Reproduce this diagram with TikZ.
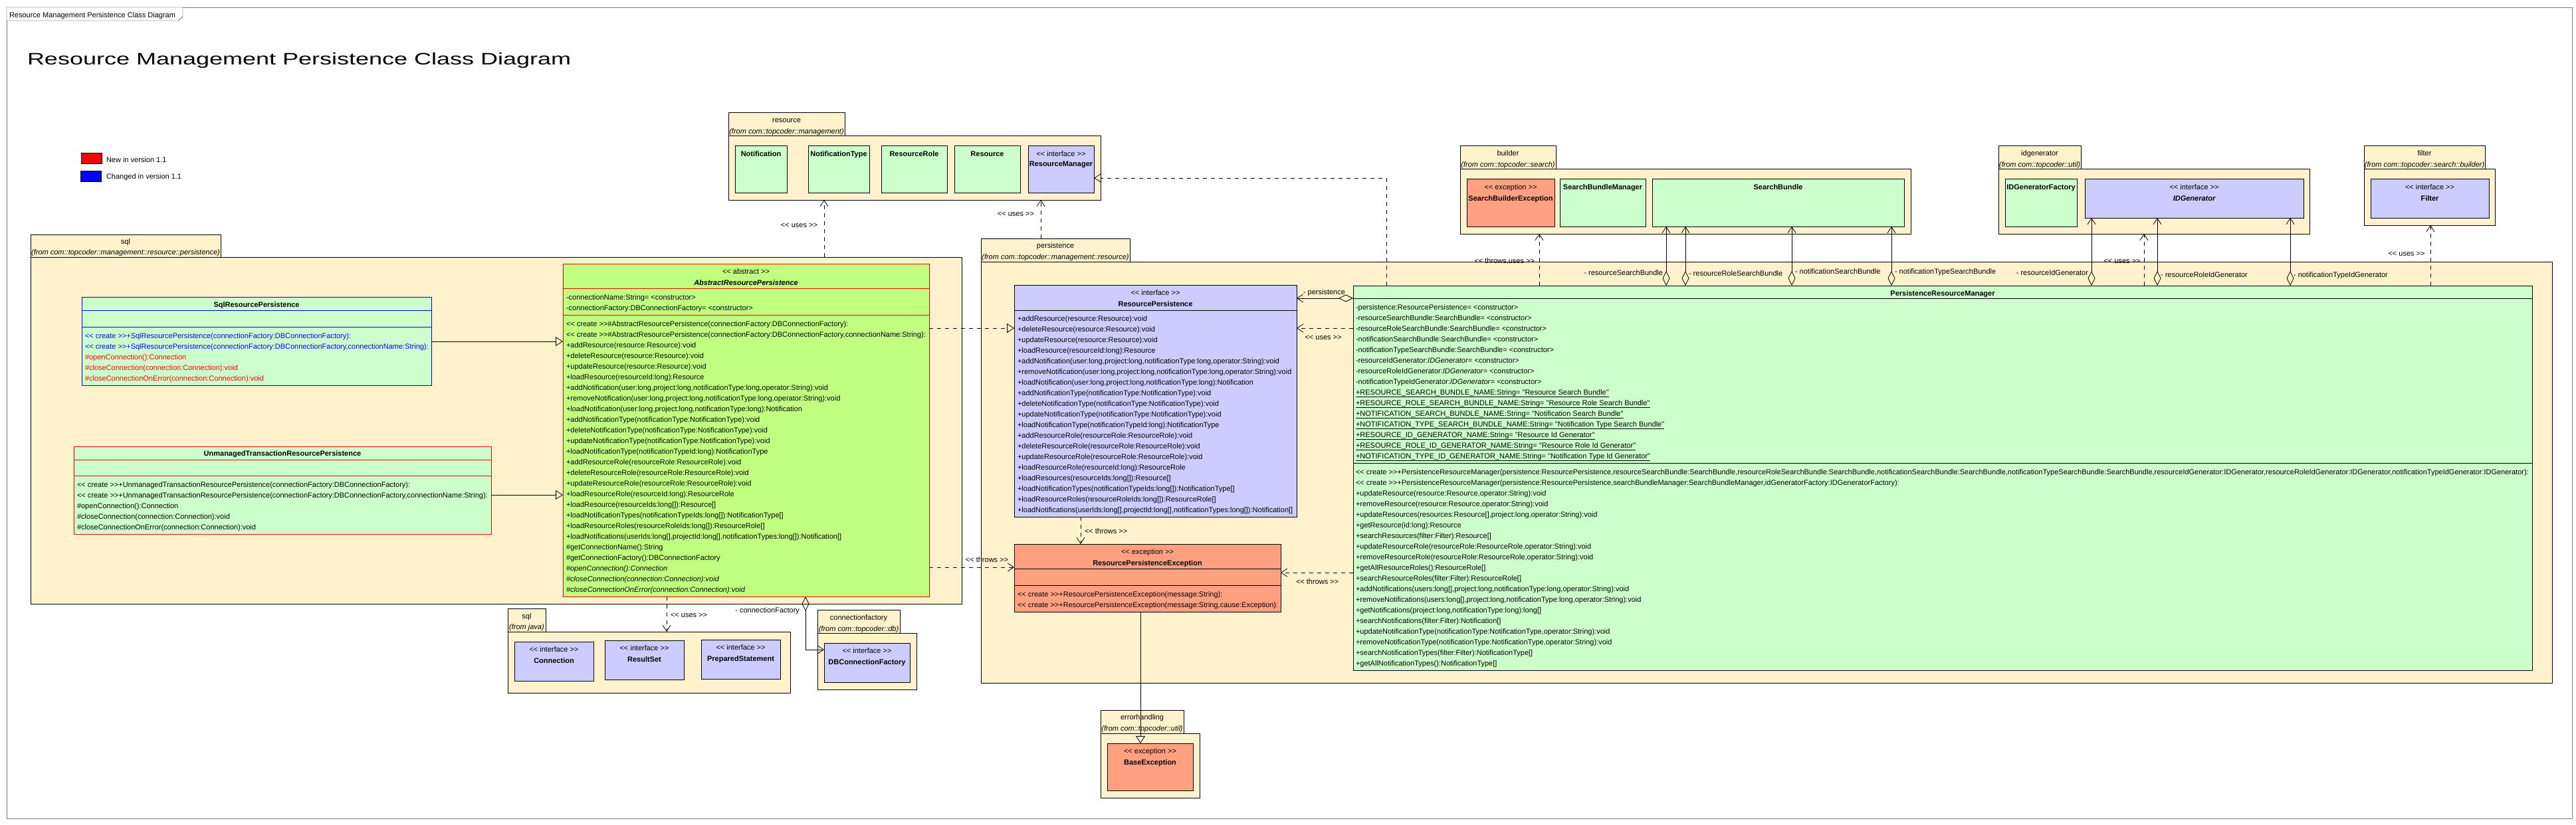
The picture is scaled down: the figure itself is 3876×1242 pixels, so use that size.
\documentclass[tikz,border=0pt]{standalone}
\usepackage{fontspec}
\setmainfont{Liberation Sans}[Ligatures=TeXOff]
\newfontfamily\titlefont{Liberation Sans}[FakeStretch=1.44,Ligatures=TeXOff]
\usetikzlibrary{arrows.meta,fit}

\definecolor{pkgfill}{HTML}{FFF2CC}
\definecolor{clsfill}{HTML}{CCFFCC}
\definecolor{absfill}{HTML}{C0FF80}
\definecolor{iffill}{HTML}{CCCCFF}
\definecolor{exfill}{HTML}{FFA080}

\begin{document}
\begin{tikzpicture}[x=1pt, y=-1pt,
    every node/.style={font=\fontsize{11}{13}\selectfont, inner sep=0pt, outer sep=0pt},
    pkgbox/.style={draw, fill=pkgfill, line width=1pt},
    clsbox/.style={draw, fill=clsfill, line width=1pt},
    absbox/.style={draw=red, fill=absfill, line width=1pt},
    ifbox/.style={draw, fill=iffill, line width=1pt},
    exbox/.style={draw, fill=exfill, line width=1pt},
    row/.style={anchor=base west},
    cname/.style={anchor=base, font=\fontsize{11}{13}\selectfont\bfseries},
    stereo/.style={anchor=base},
    dep/.style={line width=0.8pt, dash pattern=on 6pt off 6pt, arrows={-Straight Barb[length=9pt,width=12pt]}},
    real/.style={line width=0.8pt, dash pattern=on 6pt off 6pt, arrows={-Triangle[open,length=11pt,width=14pt]}},
    gen/.style={line width=0.8pt, arrows={-Triangle[open,length=11pt,width=14pt]}},
    aggr/.style={line width=0.8pt, arrows={Diamond[open,length=22pt,width=11pt]-Straight Barb[length=9pt,width=12pt]}},
  ]
\useasboundingbox (0,0) rectangle (3876,1242);

% frame and title
\draw[gray] (10,11) rectangle (3870,1232);
\draw[fill=white] (10,11) -- (275,11) -- (275,25) -- (268,31) -- (10,31) -- cycle;
\node[row] (tabtext) at (14,26) {Resource Management Persistence Class Diagram};
\node[row, font=\titlefont\fontsize{25}{30}\selectfont] (title) at (41,97) {Resource Management Persistence Class Diagram};

% legend
\node[draw, fill=red, fit={(122,230) (153,246)}] (newkey) {};
\node[row] (newtext) at (160,244) {New in version 1.1};
\node[draw, fill=blue, fit={(121,257) (152,273)}] (chgkey) {};
\node[row] (chgtext) at (160,269) {Changed in version 1.1};

% packages
\node[pkgbox, fit={(1096,169) (1271,204)}] (restab) {};
\node[pkgbox, fit={(1096,204) (1656,301)}] (respkg) {};
\node[stereo] at (1183.5,184) {resource};
\node[stereo] at (1183.5,201) {\itshape (from com::topcoder::management)};

\node[pkgbox, fit={(46,353) (332,387)}] (sqltab) {};
\node[pkgbox, fit={(46,387) (1447,909)}] (sqlpkg) {};
\node[stereo] at (189,367) {sql};
\node[stereo] at (189,383) {\itshape (from com::topcoder::management::resource::persistence)};

\node[pkgbox, fit={(1476,359) (1700,394)}] (perstab) {};
\node[pkgbox, fit={(1476,394) (3840,1028)}] (perspkg) {};
\node[stereo] at (1588,373) {persistence};
\node[stereo] at (1588,390) {\itshape (from com::topcoder::management::resource)};

\node[pkgbox, fit={(764,916) (821,951)}] (jsqltab) {};
\node[pkgbox, fit={(764,951) (1189,1043)}] (jsqlpkg) {};
\node[stereo] at (792.5,931) {sql};
\node[stereo] at (792.5,947) {\itshape (from java)};

\node[pkgbox, fit={(1230,918) (1354,953)}] (cftab) {};
\node[pkgbox, fit={(1230,953) (1379,1038)}] (cfpkg) {};
\node[stereo] at (1292,933) {connectionfactory};
\node[stereo] at (1292,950) {\itshape (from com::topcoder::db)};

\node[pkgbox, fit={(1656,1069) (1781,1104)}] (errtab) {};
\node[pkgbox, fit={(1656,1104) (1805,1201)}] (errpkg) {};
\node[stereo] at (1718.5,1083) {errorhandling};
\node[stereo] at (1718.5,1100) {\itshape (from com::topcoder::util)};

\node[pkgbox, fit={(2197,219) (2341,254)}] (bldtab) {};
\node[pkgbox, fit={(2197,254) (2875,352)}] (bldpkg) {};
\node[stereo] at (2269,234) {builder};
\node[stereo] at (2269,251) {\itshape (from com::topcoder::search)};

\node[pkgbox, fit={(3007,219) (3131,254)}] (idgtab) {};
\node[pkgbox, fit={(3007,254) (3475,352)}] (idgpkg) {};
\node[stereo] at (3069,234) {idgenerator};
\node[stereo] at (3069,251) {\itshape (from com::topcoder::util)};

\node[pkgbox, fit={(3557,219) (3739,254)}] (flttab) {};
\node[pkgbox, fit={(3557,254) (3754,339)}] (fltpkg) {};
\node[stereo] at (3648,234) {filter};
\node[stereo] at (3648,251) {\itshape (from com::topcoder::search::builder)};

% resource classes
\node[clsbox, fit={(1106,219) (1184,290)}] (notif) {};
\node[cname] at (1145,235) {Notification};
\node[clsbox, fit={(1216,219) (1308,290)}] (ntype) {};
\node[cname] at (1262,235) {NotificationType};
\node[clsbox, fit={(1326,219) (1425,290)}] (rrole) {};
\node[cname] at (1375.5,235) {ResourceRole};
\node[clsbox, fit={(1436,219) (1535,290)}] (res) {};
\node[cname] at (1485.5,235) {Resource};
\node[ifbox, fit={(1547,219) (1646,290)}] (resmgr) {};
\node[stereo] at (1596.5,235) {<< interface >>};
\node[cname] at (1596.5,250) {ResourceManager};

% java sql and db classes
\node[ifbox, fit={(774,966) (893,1025)}] (conn) {};
\node[stereo] at (833.5,981) {<< interface >>};
\node[cname] at (833.5,998) {Connection};
\node[ifbox, fit={(910,964) (1029,1023)}] (rset) {};
\node[stereo] at (969.5,979) {<< interface >>};
\node[cname] at (969.5,996) {ResultSet};
\node[ifbox, fit={(1055,963) (1174,1022)}] (pstmt) {};
\node[stereo] at (1114.5,978) {<< interface >>};
\node[cname] at (1114.5,995) {PreparedStatement};
\node[ifbox, fit={(1240,968) (1369,1027)}] (dbcf) {};
\node[stereo] at (1304.5,983) {<< interface >>};
\node[cname] at (1304.5,1000) {DBConnectionFactory};

% builder, idgenerator, filter classes
\node[exbox, fit={(2207,269) (2339,341)}] (sbex) {};
\node[stereo] at (2273,285) {<< exception >>};
\node[cname] at (2273,302) {SearchBuilderException};
\node[clsbox, fit={(2347,269) (2476,341)}] (sbmgr) {};
\node[cname] at (2411.5,285) {SearchBundleManager};
\node[clsbox, fit={(2486,269) (2865,341)}] (sbundle) {};
\node[cname] at (2675.5,285) {SearchBundle};
\node[clsbox, fit={(3017,269) (3125,341)}] (idgf) {};
\node[cname] at (3071,285) {IDGeneratorFactory};
\node[ifbox, fit={(3137,269) (3466,328)}] (idgen) {};
\node[stereo] at (3301.5,285) {<< interface >>};
\node[cname, font=\fontsize{11}{13}\selectfont\bfseries\itshape] at (3301.5,302) {IDGenerator};
\node[ifbox, fit={(3567,269) (3745,328)}] (filter) {};
\node[stereo] at (3656,285) {<< interface >>};
\node[cname] at (3656,302) {Filter};

% SqlResourcePersistence
\node[clsbox, draw=blue, fit={(123,447) (649,580)}] (sqlrp) {};
\draw[blue, line width=1pt] (sqlrp.west |- 0,467) -- (sqlrp.east |- 0,467);
\draw[blue, line width=1pt] (sqlrp.west |- 0,492) -- (sqlrp.east |- 0,492);
\node[cname] at (386,462) {SqlResourcePersistence};
\foreach \t [count=\i from 0] in {
    {<< create >>+SqlResourcePersistence(connectionFactory:DBConnectionFactory):},
    {<< create >>+SqlResourcePersistence(connectionFactory:DBConnectionFactory,connectionName:String):}}
  \node[row, text=blue] (sqlrp-m\i) at (128,509+16*\i) {\t};
\foreach \t [count=\i from 2] in {
    {\#openConnection():Connection},
    {\#closeConnection(connection:Connection):void},
    {\#closeConnectionOnError(connection:Connection):void}}
  \node[row, text=red] (sqlrp-m\i) at (128,509+16*\i) {\t};

% UnmanagedTransactionResourcePersistence
\node[clsbox, draw=red, fit={(111,672) (739,804)}] (utrp) {};
\draw[red, line width=1pt] (utrp.west |- 0,692) -- (utrp.east |- 0,692);
\draw[red, line width=1pt] (utrp.west |- 0,716) -- (utrp.east |- 0,716);
\node[cname] at (425,686) {UnmanagedTransactionResourcePersistence};
\foreach \t [count=\i from 0] in {
    {<< create >>+UnmanagedTransactionResourcePersistence(connectionFactory:DBConnectionFactory):},
    {<< create >>+UnmanagedTransactionResourcePersistence(connectionFactory:DBConnectionFactory,connectionName:String):},
    {\#openConnection():Connection},
    {\#closeConnection(connection:Connection):void},
    {\#closeConnectionOnError(connection:Connection):void}}
  \node[row] (utrp-m\i) at (116,733+16*\i) {\t};

% AbstractResourcePersistence
\node[absbox, fit={(847,397) (1398,898)}] (abs) {};
\draw[red, line width=1pt] (abs.west |- 0,434) -- (abs.east |- 0,434);
\draw[red, line width=1pt] (abs.west |- 0,474) -- (abs.east |- 0,474);
\node[stereo] at (1122.5,412) {<< abstract >>};
\node[cname, font=\fontsize{11}{13}\selectfont\bfseries\itshape] at (1122.5,429) {AbstractResourcePersistence};
\node[row] (abs-a0) at (852,451) {-connectionName:String= <constructor>};
\node[row] (abs-a1) at (852,467) {-connectionFactory:DBConnectionFactory= <constructor>};
\foreach \t [count=\i from 0] in {
    {<< create >>\#AbstractResourcePersistence(connectionFactory:DBConnectionFactory):},
    {<< create >>\#AbstractResourcePersistence(connectionFactory:DBConnectionFactory,connectionName:String):},
    {+addResource(resource:Resource):void},
    {+deleteResource(resource:Resource):void},
    {+updateResource(resource:Resource):void},
    {+loadResource(resourceId:long):Resource},
    {+addNotification(user:long,project:long,notificationType:long,operator:String):void},
    {+removeNotification(user:long,project:long,notificationType:long,operator:String):void},
    {+loadNotification(user:long,project:long,notificationType:long):Notification},
    {+addNotificationType(notificationType:NotificationType):void},
    {+deleteNotificationType(notificationType:NotificationType):void},
    {+updateNotificationType(notificationType:NotificationType):void},
    {+loadNotificationType(notificationTypeId:long):NotificationType},
    {+addResourceRole(resourceRole:ResourceRole):void},
    {+deleteResourceRole(resourceRole:ResourceRole):void},
    {+updateResourceRole(resourceRole:ResourceRole):void},
    {+loadResourceRole(resourceId:long):ResourceRole},
    {+loadResource(resourceIds:long[]):Resource[]},
    {+loadNotificationTypes(notificationTypeIds:long[]):NotificationType[]},
    {+loadResourceRoles(resourceRoleIds:long[]):ResourceRole[]},
    {+loadNotifications(userIds:long[],projectId:long[],notificationTypes:long[]):Notification[]},
    {\#getConnectionName():String},
    {\#getConnectionFactory():DBConnectionFactory},
    {\itshape\#openConnection():Connection},
    {\itshape\#closeConnection(connection:Connection):void},
    {\itshape\#closeConnectionOnError(connection:Connection):void}}
  \node[row] (abs-m\i) at (852,491+16*\i) {\t};

% ResourcePersistence
\node[ifbox, fit={(1526,429) (1951,778)}] (rp) {};
\draw[line width=1pt] (rp.west |- 0,467) -- (rp.east |- 0,467);
\node[stereo] at (1738.5,444) {<< interface >>};
\node[cname] at (1738.5,461) {ResourcePersistence};
\foreach \t [count=\i from 0] in {
    {+addResource(resource:Resource):void},
    {+deleteResource(resource:Resource):void},
    {+updateResource(resource:Resource):void},
    {+loadResource(resourceId:long):Resource},
    {+addNotification(user:long,project:long,notificationType:long,operator:String):void},
    {+removeNotification(user:long,project:long,notificationType:long,operator:String):void},
    {+loadNotification(user:long,project:long,notificationType:long):Notification},
    {+addNotificationType(notificationType:NotificationType):void},
    {+deleteNotificationType(notificationType:NotificationType):void},
    {+updateNotificationType(notificationType:NotificationType):void},
    {+loadNotificationType(notificationTypeId:long):NotificationType},
    {+addResourceRole(resourceRole:ResourceRole):void},
    {+deleteResourceRole(resourceRole:ResourceRole):void},
    {+updateResourceRole(resourceRole:ResourceRole):void},
    {+loadResourceRole(resourceId:long):ResourceRole},
    {+loadResources(resourceIds:long[]):Resource[]},
    {+loadNotificationTypes(notificationTypeIds:long[]):NotificationType[]},
    {+loadResourceRoles(resourceRoleIds:long[]):ResourceRole[]},
    {+loadNotifications(userIds:long[],projectId:long[],notificationTypes:long[]):Notification[]}}
  \node[row] (rp-m\i) at (1531,483+16*\i) {\t};

% ResourcePersistenceException
\node[exbox, fit={(1526,819) (1927,921)}] (rpex) {};
\draw[line width=1pt] (rpex.west |- 0,856) -- (rpex.east |- 0,856);
\draw[line width=1pt] (rpex.west |- 0,881) -- (rpex.east |- 0,881);
\node[stereo] at (1726.5,834) {<< exception >>};
\node[cname] at (1726.5,851) {ResourcePersistenceException};
\node[row] (rpex-m0) at (1531,898) {<< create >>+ResourcePersistenceException(message:String):};
\node[row] (rpex-m1) at (1531,914) {<< create >>+ResourcePersistenceException(message:String,cause:Exception):};

% BaseException
\node[exbox, fit={(1666,1119) (1795,1190)}] (baseex) {};
\node[stereo] at (1730.5,1134) {<< exception >>};
\node[cname] at (1730.5,1151) {BaseException};

% PersistenceResourceManager
\node[clsbox, fit={(2036,430) (3810,1009)}] (prm) {};
\draw[line width=1pt] (prm.west |- 0,449) -- (prm.east |- 0,449);
\draw[line width=1pt] (prm.west |- 0,697) -- (prm.east |- 0,697);
\node[cname] at (2923,445) {PersistenceResourceManager};
\foreach \t [count=\i from 0] in {
    {-persistence:ResourcePersistence= <constructor>},
    {-resourceSearchBundle:SearchBundle= <constructor>},
    {-resourceRoleSearchBundle:SearchBundle= <constructor>},
    {-notificationSearchBundle:SearchBundle= <constructor>},
    {-notificationTypeSearchBundle:SearchBundle= <constructor>},
    {-resourceIdGenerator:\textit{IDGenerator}= <constructor>},
    {-resourceRoleIdGenerator:\textit{IDGenerator}= <constructor>},
    {-notificationTypeIdGenerator:\textit{IDGenerator}= <constructor>},
    {\underline{+RESOURCE\_SEARCH\_BUNDLE\_NAME:String= "Resource Search Bundle"}},
    {\underline{+RESOURCE\_ROLE\_SEARCH\_BUNDLE\_NAME:String= "Resource Role Search Bundle"}},
    {\underline{+NOTIFICATION\_SEARCH\_BUNDLE\_NAME:String= "Notification Search Bundle"}},
    {\underline{+NOTIFICATION\_TYPE\_SEARCH\_BUNDLE\_NAME:String= "Notification Type Search Bundle"}},
    {\underline{+RESOURCE\_ID\_GENERATOR\_NAME:String= "Resource Id Generator"}},
    {\underline{+RESOURCE\_ROLE\_ID\_GENERATOR\_NAME:String= "Resource Role Id Generator"}},
    {\underline{+NOTIFICATION\_TYPE\_ID\_GENERATOR\_NAME:String= "Notification Type Id Generator"}}}
  \node[row] (prm-a\i) at (2040,466+16*\i) {\t};
\foreach \t [count=\i from 0] in {
    {<< create >>+PersistenceResourceManager(persistence:ResourcePersistence,resourceSearchBundle:SearchBundle,resourceRoleSearchBundle:SearchBundle,notificationSearchBundle:SearchBundle,notificationTypeSearchBundle:SearchBundle,resourceIdGenerator:IDGenerator,resourceRoleIdGenerator:IDGenerator,notificationTypeIdGenerator:IDGenerator):},
    {<< create >>+PersistenceResourceManager(persistence:ResourcePersistence,searchBundleManager:SearchBundleManager,idGeneratorFactory:IDGeneratorFactory):},
    {+updateResource(resource:Resource,operator:String):void},
    {+removeResource(resource:Resource,operator:String):void},
    {+updateResources(resources:Resource[],project:long,operator:String):void},
    {+getResource(id:long):Resource},
    {+searchResources(filter:Filter):Resource[]},
    {+updateResourceRole(resourceRole:ResourceRole,operator:String):void},
    {+removeResourceRole(resourceRole:ResourceRole,operator:String):void},
    {+getAllResourceRoles():ResourceRole[]},
    {+searchResourceRoles(filter:Filter):ResourceRole[]},
    {+addNotifications(users:long[],project:long,notificationType:long,operator:String):void},
    {+removeNotifications(users:long[],project:long,notificationType:long,operator:String):void},
    {+getNotifications(project:long,notificationType:long):long[]},
    {+searchNotifications(filter:Filter):Notification[]},
    {+updateNotificationType(notificationType:NotificationType,operator:String):void},
    {+removeNotificationType(notificationType:NotificationType,operator:String):void},
    {+searchNotificationTypes(filter:Filter):NotificationType[]},
    {+getAllNotificationTypes():NotificationType[]}}
  \node[row] (prm-m\i) at (2040,714+16*\i) {\t};

% connectors
\draw[gen] (sqlrp.east |- 0,514) -- (abs.west |- 0,514);
\draw[gen] (utrp.east |- 0,745) -- (abs.west |- 0,745);
\draw[real] (abs.east |- 0,494) -- (rp.west |- 0,494);
\draw[dep] (abs.east |- 0,854) -- (rpex.west |- 0,854);
\node[stereo] (lthrows1) at (1485,846) {<< throws >>};
\draw[dep] (abs.south -| 1003,0) -- (jsqlpkg.north -| 1003,0);
\node[row] (luses1) at (1009,929) {<< uses >>};
\draw[aggr] (abs.south -| 1212,0) |- (dbcf.west |- 0,978);
\node[anchor=base east] (lcf) at (1203,922) {- connectionFactory};
\draw[dep] (sqlpkg.north -| 1240,0) -- (respkg.south -| 1240,0);
\node[anchor=base east] (luses2) at (1230,342) {<< uses >>};
\draw[dep] (perstab.north -| 1566,0) -- (respkg.south -| 1566,0);
\node[anchor=base east] (luses3) at (1556,325) {<< uses >>};
\draw[dep] (rp.south -| 1626,0) -- (rpex.north -| 1626,0);
\node[row] (lthrows2) at (1632,803) {<< throws >>};
\draw[gen] (rpex.south -| 1716,0) -- (baseex.north -| 1716,0);
\draw[aggr] (prm.west |- 0,449) -- (rp.east |- 0,449);
\node[row] (lpers) at (1961,443) {- persistence};
\draw[dep] (prm.west |- 0,494) -- (rp.east |- 0,494);
\node[stereo] (luses4) at (1991,511) {<< uses >>};
\draw[dep] (prm.west |- 0,862) -- (rpex.east |- 0,862);
\node[row] (lthrows3) at (1950,879) {<< throws >>};
\draw[real] (prm.north -| 2086,0) |- (resmgr.east |- 0,268);
\draw[dep] (prm.north -| 2316,0) -- (bldpkg.south -| 2316,0);
\node[anchor=base east] (lbld) at (2309,396) {<< throws,uses >>};
\foreach \x in {2507,2536,2696,2846}
  \draw[aggr] (prm.north -| \x,0) -- (sbundle.south -| \x,0);
\node[anchor=base east] (lrsb) at (2502,414) {- resourceSearchBundle};
\node[row] (lrrsb) at (2541,415) {- resourceRoleSearchBundle};
\node[row] (lnsb) at (2701,412) {- notificationSearchBundle};
\node[row] (lntsb) at (2851,412) {- notificationTypeSearchBundle};
\foreach \x in {3147,3246,3446}
  \draw[aggr] (prm.north -| \x,0) -- (idgen.south -| \x,0);
\node[anchor=base east] (lrig) at (3142,414) {- resourceIdGenerator};
\node[row] (lrrig) at (3251,417) {- resourceRoleIdGenerator};
\node[row] (lntig) at (3451,417) {- notificationTypeIdGenerator};
\draw[dep] (prm.north -| 3226,0) -- (idgpkg.south -| 3226,0);
\node[stereo] (luses5) at (3193,396) {<< uses >>};
\draw[dep] (prm.north -| 3657,0) -- (fltpkg.south -| 3657,0);
\node[stereo] (luses6) at (3621,385) {<< uses >>};
\end{tikzpicture}
\end{document}
